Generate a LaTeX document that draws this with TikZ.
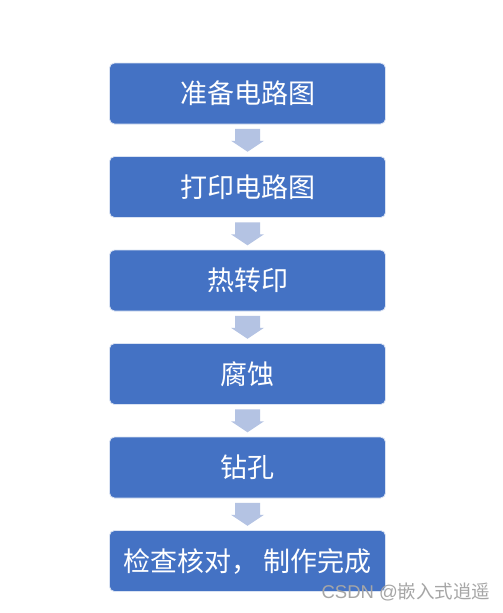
\documentclass[tikz,border=0pt]{standalone}
\usepackage{fontspec}
\newfontfamily\cjk{Noto Sans CJK SC}
\usetikzlibrary{calc}
\definecolor{boxblue}{HTML}{4472C4}
\definecolor{arrowblue}{HTML}{B4C3E3}
\begin{document}
\begin{tikzpicture}[x=1pt,y=-1pt,
  stepbox/.style={draw=white!80!boxblue, line width=0.8pt, fill=boxblue, rounded corners=5pt,
    minimum width=276pt, minimum height=61pt, inner sep=0pt, text=white,
    font=\cjk\fontsize{27}{32}\selectfont},
  downarrow/.style={fill=arrowblue, draw=none}]
\useasboundingbox (0,0) rectangle (503,613);
\fill[white] (0,0) rectangle (503,613);
\foreach \i/\t in {1/准备电路图,2/打印电路图,3/热转印,4/腐蚀,5/钻孔,6/检查核对，\,制作完成}{
  \node[stepbox] (b\i) at (247.5, {93.5+93.5*(\i-1)}) {\t};
}
\foreach \i [evaluate=\i as \j using int(\i+1)] in {1,...,5}{
  \coordinate (m\i) at ($(b\i.south)!0.5!(b\j.north)$);
  \fill[downarrow] ($(m\i)+(-12.5,-11.5)$) -- ($(m\i)+(12.5,-11.5)$) -- ($(m\i)+(12.5,0.5)$)
    -- ($(m\i)+(16.5,0.5)$) -- ($(m\i)+(0,11.5)$) -- ($(m\i)+(-16.5,0.5)$)
    -- ($(m\i)+(-12.5,0.5)$) -- cycle;
}
\node[text=gray!70, font=\fontspec{Liberation Sans}\fontsize{18.5}{22}\selectfont, anchor=east] (wm) at (494,592) {CSDN @{\cjk 嵌入式逍遥}};
\end{tikzpicture}
\end{document}
